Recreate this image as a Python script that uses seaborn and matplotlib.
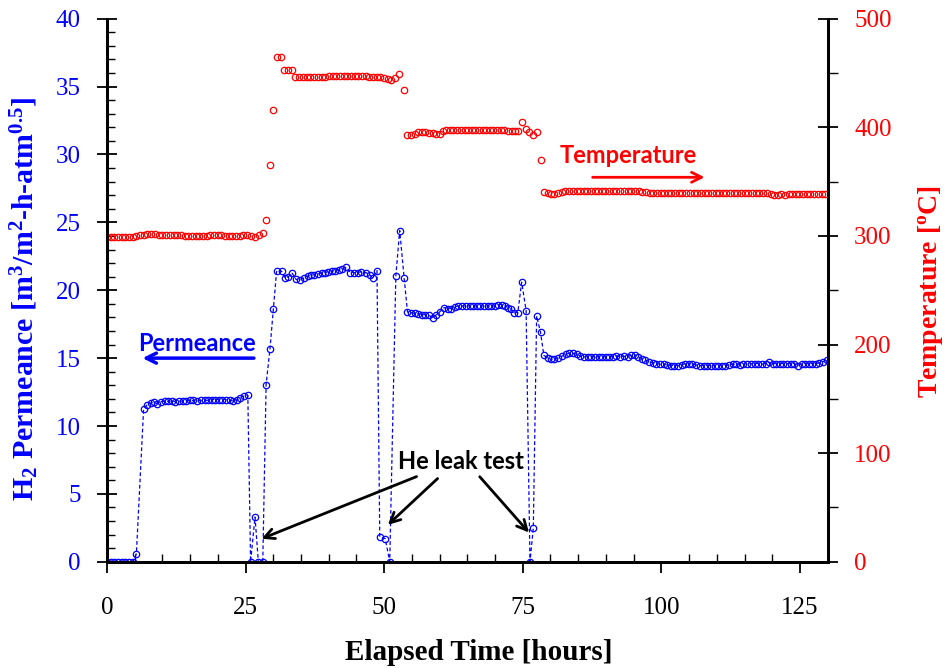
import matplotlib
matplotlib.use('Agg')
import matplotlib.pyplot as plt
import seaborn as sns
import pandas as pd
from matplotlib.ticker import MultipleLocator, FixedLocator

# ---------------- data ----------------
perm_hours = [0.0, 0.7, 1.3, 2.0, 2.7, 3.3, 4.0, 4.7, 5.3, 6.6, 7.2, 7.9, 8.5, 9.1, 9.8,
              10.4, 11.0, 11.7, 12.3, 13.0, 13.7, 14.3, 15.0, 15.6, 16.3, 16.9, 17.6, 18.2,
              18.9, 19.5, 20.2, 20.8, 21.5, 22.1, 22.7, 23.4, 24.0, 24.7, 25.4, 25.9, 26.7,
              27.3, 28.1, 28.7, 29.4, 30.0, 30.6, 31.5, 32.1, 32.7, 33.4, 34.1, 34.8, 35.5,
              36.2, 36.8, 37.4, 38.1, 38.7, 39.3, 39.9, 40.5, 41.1, 41.8, 42.4, 43.2, 43.9,
              44.6, 45.2, 45.9, 46.7, 47.4, 47.9, 48.7, 49.2, 50.2, 51.0, 52.1, 52.8, 53.6,
              54.2, 54.8, 55.5, 56.1, 56.8, 57.4, 58.1, 58.8, 59.4, 60.0, 60.8, 61.5, 62.1,
              62.8, 63.4, 64.1, 64.7, 65.4, 66.0, 66.7, 67.3, 68.0, 68.7, 69.3, 70.0, 70.6,
              71.2, 71.8, 72.4, 72.9, 73.4, 74.1, 74.8, 75.6, 76.3, 76.9, 77.5, 78.2, 78.8,
              79.5, 80.1, 80.7, 81.4, 82.1, 82.8, 83.4, 84.1, 84.7, 85.4, 86.0, 86.7, 87.3,
              88.0, 88.7, 89.3, 90.0, 90.6, 91.2, 91.9, 92.5, 93.2, 93.9, 94.5, 95.2, 95.8,
              96.5, 97.1, 97.8, 98.4, 99.1, 99.7, 100.4, 101.0, 101.7, 102.3, 103.0, 103.7,
              104.3, 105.0, 105.6, 106.3, 106.9, 107.6, 108.3, 108.9, 109.6, 110.2, 110.9,
              111.5, 112.2, 112.9, 113.5, 114.2, 114.8, 115.5, 116.1, 116.8, 117.4, 118.1,
              118.8, 119.4, 120.1, 120.7, 121.4, 122.0, 122.7, 123.3, 124.0, 124.6, 125.3,
              125.9, 126.6, 127.2, 127.9, 128.5, 129.2, 129.8]
perm_values = [0, 0, 0, 0, 0, 0, 0, 0, 0.6, 11.25, 11.55, 11.7, 11.75, 11.65, 11.8,
               11.83, 11.83, 11.83, 11.8, 11.83, 11.83, 11.85, 11.88, 11.88, 11.85, 11.88,
               11.88, 11.9, 11.95, 11.95, 11.95, 11.95, 11.95, 11.9, 11.85, 11.9, 12.1, 12.2,
               12.27, 0, 3.3, 0, 0, 13.05, 15.7, 18.6, 21.45, 21.4, 20.9, 21.0, 21.25, 20.8,
               20.75, 20.9, 21.05, 21.1, 21.15, 21.2, 21.27, 21.3, 21.37, 21.4, 21.45, 21.5,
               21.57, 21.7, 21.3, 21.3, 21.3, 21.37, 21.3, 21.15, 20.9, 21.45, 1.85, 1.7, 0,
               21.05, 24.4, 20.9, 18.4, 18.35, 18.3, 18.25, 18.2, 18.2, 18.15, 17.95, 18.2,
               18.4, 18.72, 18.65, 18.65, 18.8, 18.84, 18.84, 18.84, 18.84, 18.84, 18.84,
               18.84, 18.84, 18.84, 18.84, 18.84, 18.95, 18.95, 18.84, 18.72, 18.6, 18.35,
               18.35, 20.6, 18.5, 0, 2.5, 18.1, 16.9, 15.2, 15.03, 14.9, 14.9, 15.0, 15.15,
               15.3, 15.35, 15.35, 15.3, 15.15, 15.1, 15.1, 15.1, 15.1, 15.1, 15.1, 15.1,
               15.1, 15.1, 15.15, 15.1, 15.15, 15.1, 15.2, 15.25, 15.1, 14.95, 14.85, 14.75,
               14.65, 14.6, 14.55, 14.55, 14.5, 14.45, 14.45, 14.45, 14.5, 14.6, 14.6, 14.55,
               14.5, 14.45, 14.45, 14.45, 14.45, 14.45, 14.45, 14.45, 14.45, 14.5, 14.55,
               14.55, 14.5, 14.55, 14.6, 14.6, 14.6, 14.6, 14.55, 14.6, 14.7, 14.6, 14.6,
               14.6, 14.6, 14.6, 14.6, 14.6, 14.45, 14.6, 14.6, 14.6, 14.6, 14.6, 14.65,
               14.75, 14.85]

temp_hours = [0.0, 0.7, 1.3, 2.0, 2.7, 3.3, 4.0, 4.7, 5.3, 6.0, 6.6, 7.3, 8.0, 8.6, 9.3,
              10.0, 10.6, 11.3, 12.0, 12.6, 13.3, 14.0, 14.6, 15.3, 16.0, 16.6, 17.3, 18.0,
              18.6, 19.3, 20.0, 20.6, 21.3, 22.0, 22.6, 23.3, 24.0, 24.6, 25.3, 26.0, 26.7,
              27.5, 28.2, 28.7, 29.4, 30.0, 30.7, 31.3, 31.9, 32.6, 33.3, 34.0, 34.7, 35.3,
              36.0, 36.7, 37.3, 38.0, 38.7, 39.3, 40.0, 40.7, 41.3, 42.0, 42.7, 43.3, 44.0,
              44.7, 45.3, 46.0, 46.7, 47.3, 48.0, 48.7, 49.3, 50.0, 50.7, 51.3, 51.9, 52.6,
              53.6, 54.2, 54.8, 55.5, 56.1, 56.8, 57.4, 58.1, 58.8, 59.4, 60.0, 60.6, 61.2,
              61.9, 62.5, 63.2, 63.8, 64.5, 65.1, 65.8, 66.4, 67.1, 67.8, 68.4, 69.1, 69.7,
              70.4, 71.0, 71.7, 72.3, 73.0, 73.6, 74.2, 74.8, 75.6, 76.2, 76.8, 77.5, 78.2,
              78.8, 79.5, 80.1, 80.7, 81.4, 82.0, 82.7, 83.3, 84.0, 84.7, 85.3, 86.0, 86.6,
              87.3, 88.0, 88.6, 89.3, 89.9, 90.6, 91.3, 91.9, 92.6, 93.2, 93.9, 94.6, 95.2,
              95.9, 96.5, 97.2, 97.9, 98.5, 99.2, 99.9, 100.5, 101.2, 101.8, 102.5, 103.2,
              103.8, 104.5, 105.1, 105.8, 106.5, 107.1, 107.8, 108.4, 109.1, 109.8, 110.4,
              111.1, 111.7, 112.4, 113.1, 113.7, 114.4, 115.0, 115.7, 116.4, 117.0, 117.7,
              118.3, 119.0, 119.7, 120.3, 121.0, 121.6, 122.3, 123.0, 123.6, 124.3, 124.9,
              125.6, 126.3, 126.9, 127.6, 128.2, 128.9, 129.6]
temp_values = [299, 299, 299, 299, 299, 299, 299, 299, 299.5, 300.5, 301, 302, 302, 301.5,
               300.8, 300.8, 300.8, 300.8, 300.8, 300.8, 300.5, 300, 300, 300, 300, 300,
               300, 300, 300.5, 301, 301, 300.5, 300, 300, 300, 300, 300, 301, 300.5, 300,
               298.8, 301, 303, 315, 365, 416, 465, 465, 453, 453, 453, 446.5, 446.5, 446.5,
               446.5, 446.5, 446.5, 446.5, 446.5, 446.5, 447.5, 447.5, 447.5, 447.5, 447.5,
               447.5, 447.5, 447.5, 447.5, 447.5, 447, 446.5, 446.5, 446.5, 446, 445, 444.5,
               444, 445.5, 449, 434, 392.5, 392.5, 394, 395.5, 395.5, 395.5, 395, 395, 393.5,
               394, 396.3, 397.5, 397.5, 397.5, 397.5, 397.5, 397.5, 397.5, 397.5, 397.5,
               397.5, 397.5, 397.5, 397.5, 397.5, 397.5, 397.5, 397.5, 397, 396.5, 396.5,
               397, 404.5, 398.4, 395.6, 393.2, 396, 370, 340, 339.5, 338.8, 338.6, 339.2,
               340, 341, 341.5, 341.5, 341.5, 341.5, 341.5, 341.5, 341.5, 341.5, 341.5,
               341.5, 341.5, 341.5, 341.5, 341.5, 341.5, 341.5, 341.5, 341.5, 341.5, 341.5,
               340.5, 340.3, 339.5, 339.2, 339.2, 339.2, 339.2, 339.2, 339.2, 339.2, 339.2,
               339.2, 339.2, 339.2, 339.2, 339.2, 339.2, 339.2, 339.2, 339.2, 339.2, 339.2,
               339.2, 339.2, 339.2, 339.2, 339.2, 339.2, 339.2, 339.2, 339.2, 339.2, 339.2,
               339.2, 339.2, 338.5, 338, 337.8, 338.5, 337.8, 339, 338.3, 338.3, 338.3,
               338.3, 338.3, 338.3, 338.3, 338.3, 338.3, 338.3]

x_ticks = [0, 25, 50, 75, 100, 125]
perm_ticks = [0, 5, 10, 15, 20, 25, 30, 35, 40]
temp_ticks = [0, 100, 200, 300, 400, 500]

BLUE = '#0000FF'
RED = '#FF0000'

perm_df = pd.DataFrame({'hours': perm_hours, 'perm': perm_values})
temp_df = pd.DataFrame({'hours': temp_hours, 'temp': temp_values})

sns.set_theme(style='white')
plt.rcParams['font.family'] = ['Liberation Serif', 'DejaVu Serif']
plt.rcParams['mathtext.fontset'] = 'custom'
plt.rcParams['mathtext.rm'] = 'Liberation Serif'
plt.rcParams['mathtext.bf'] = 'Liberation Serif:bold'
plt.rcParams['mathtext.it'] = 'Liberation Serif:italic'

fig = plt.figure(figsize=(9.47, 6.68), dpi=100)
ax = fig.add_axes([0.113, 0.159, 0.761, 0.813])
ax2 = ax.twinx()

sns.lineplot(data=perm_df, x='hours', y='perm', ax=ax, estimator=None, sort=False,
             color=BLUE, linewidth=0.9, linestyle=(0, (3, 2)), marker='o', markersize=4.6,
             markerfacecolor='none', markeredgecolor=BLUE, markeredgewidth=0.9)
sns.lineplot(data=temp_df, x='hours', y='temp', ax=ax2, estimator=None, sort=False,
             color=RED, linestyle='none', marker='o', markersize=4.6,
             markerfacecolor='none', markeredgecolor=RED, markeredgewidth=0.9)

ax.set_xlim(0, 130)
ax.set_ylim(0, 40)
ax2.set_ylim(0, 500)

ax.xaxis.set_major_locator(FixedLocator(x_ticks))
ax.xaxis.set_minor_locator(MultipleLocator(5))
ax.yaxis.set_major_locator(FixedLocator(perm_ticks))
ax.yaxis.set_minor_locator(MultipleLocator(1))
ax2.yaxis.set_major_locator(FixedLocator(temp_ticks))
ax2.yaxis.set_minor_locator(MultipleLocator(50))

for a in (ax, ax2):
    for s in a.spines.values():
        s.set_color('black')
        s.set_linewidth(2)
    a.spines['top'].set_visible(False)
    a.grid(False)

ax.tick_params(axis='x', which='major', direction='out', length=8, width=1.3,
               pad=17, labelsize=18, labelcolor='black', color='black', bottom=True)
ax.tick_params(axis='x', which='minor', direction='in', length=6, width=1.0,
               color='black', bottom=True)
ax.tick_params(axis='y', which='major', direction='inout', length=14, width=1.3,
               pad=12, labelsize=18, labelcolor=BLUE, color='black', left=True)
ax.tick_params(axis='y', which='minor', direction='in', length=6, width=1.0,
               color='black', left=True)
ax2.tick_params(axis='y', which='major', direction='inout', length=14, width=1.3,
                pad=12, labelsize=18, labelcolor=RED, color='black', right=True)
ax2.tick_params(axis='y', which='minor', direction='out', length=7, width=1.0,
                color='black', right=True)

ax.set_xlabel('Elapsed Time [hours]', fontsize=21, fontweight='bold', color='black')
ax.set_ylabel(r'H$_\mathbf{2}$ Permeance [m$^\mathbf{3}$/m$^\mathbf{2}$-h-atm$^\mathbf{0.5}$]',
              fontsize=21.5, fontweight='bold', color=BLUE)
ax2.set_ylabel(r'Temperature [$^\mathbf{o}$C]', fontsize=20, fontweight='bold', color=RED)
ax.xaxis.set_label_coords(0.516, -0.142)
ax.yaxis.set_label_coords(-0.092, 0.484)
ax2.yaxis.set_label_coords(1.122, 0.497)

# annotations
ax.text(16.3, 16.1, 'Permeance', fontsize=17, fontweight='bold', color=BLUE,
        family='Lato', ha='center', va='center')
ax.annotate('', xy=(5.9, 15.0), xytext=(27.0, 15.0),
            arrowprops=dict(arrowstyle='->,head_length=0.6,head_width=0.3', color=BLUE, lw=2.5))
ax2.text(94.0, 374, 'Temperature', fontsize=17, fontweight='bold', color=RED,
         family='Lato', ha='center', va='center')
ax2.annotate('', xy=(108.3, 354), xytext=(87.1, 354),
             arrowprops=dict(arrowstyle='->,head_length=0.6,head_width=0.3', color=RED, lw=2))
ax.text(63.8, 7.4, 'He leak test', fontsize=17, fontweight='bold', color='black',
        family='Lato', ha='center', va='center')
for start, end in [((56.3, 6.35), (27.4, 1.62)), ((60.0, 6.27), (50.3, 2.58)),
                   ((66.9, 6.42), (76.45, 2.0))]:
    ax.annotate('', xy=end, xytext=start,
                arrowprops=dict(arrowstyle='->,head_length=0.6,head_width=0.3', color='black', lw=2))

fig.savefig('out.png', dpi=100)
